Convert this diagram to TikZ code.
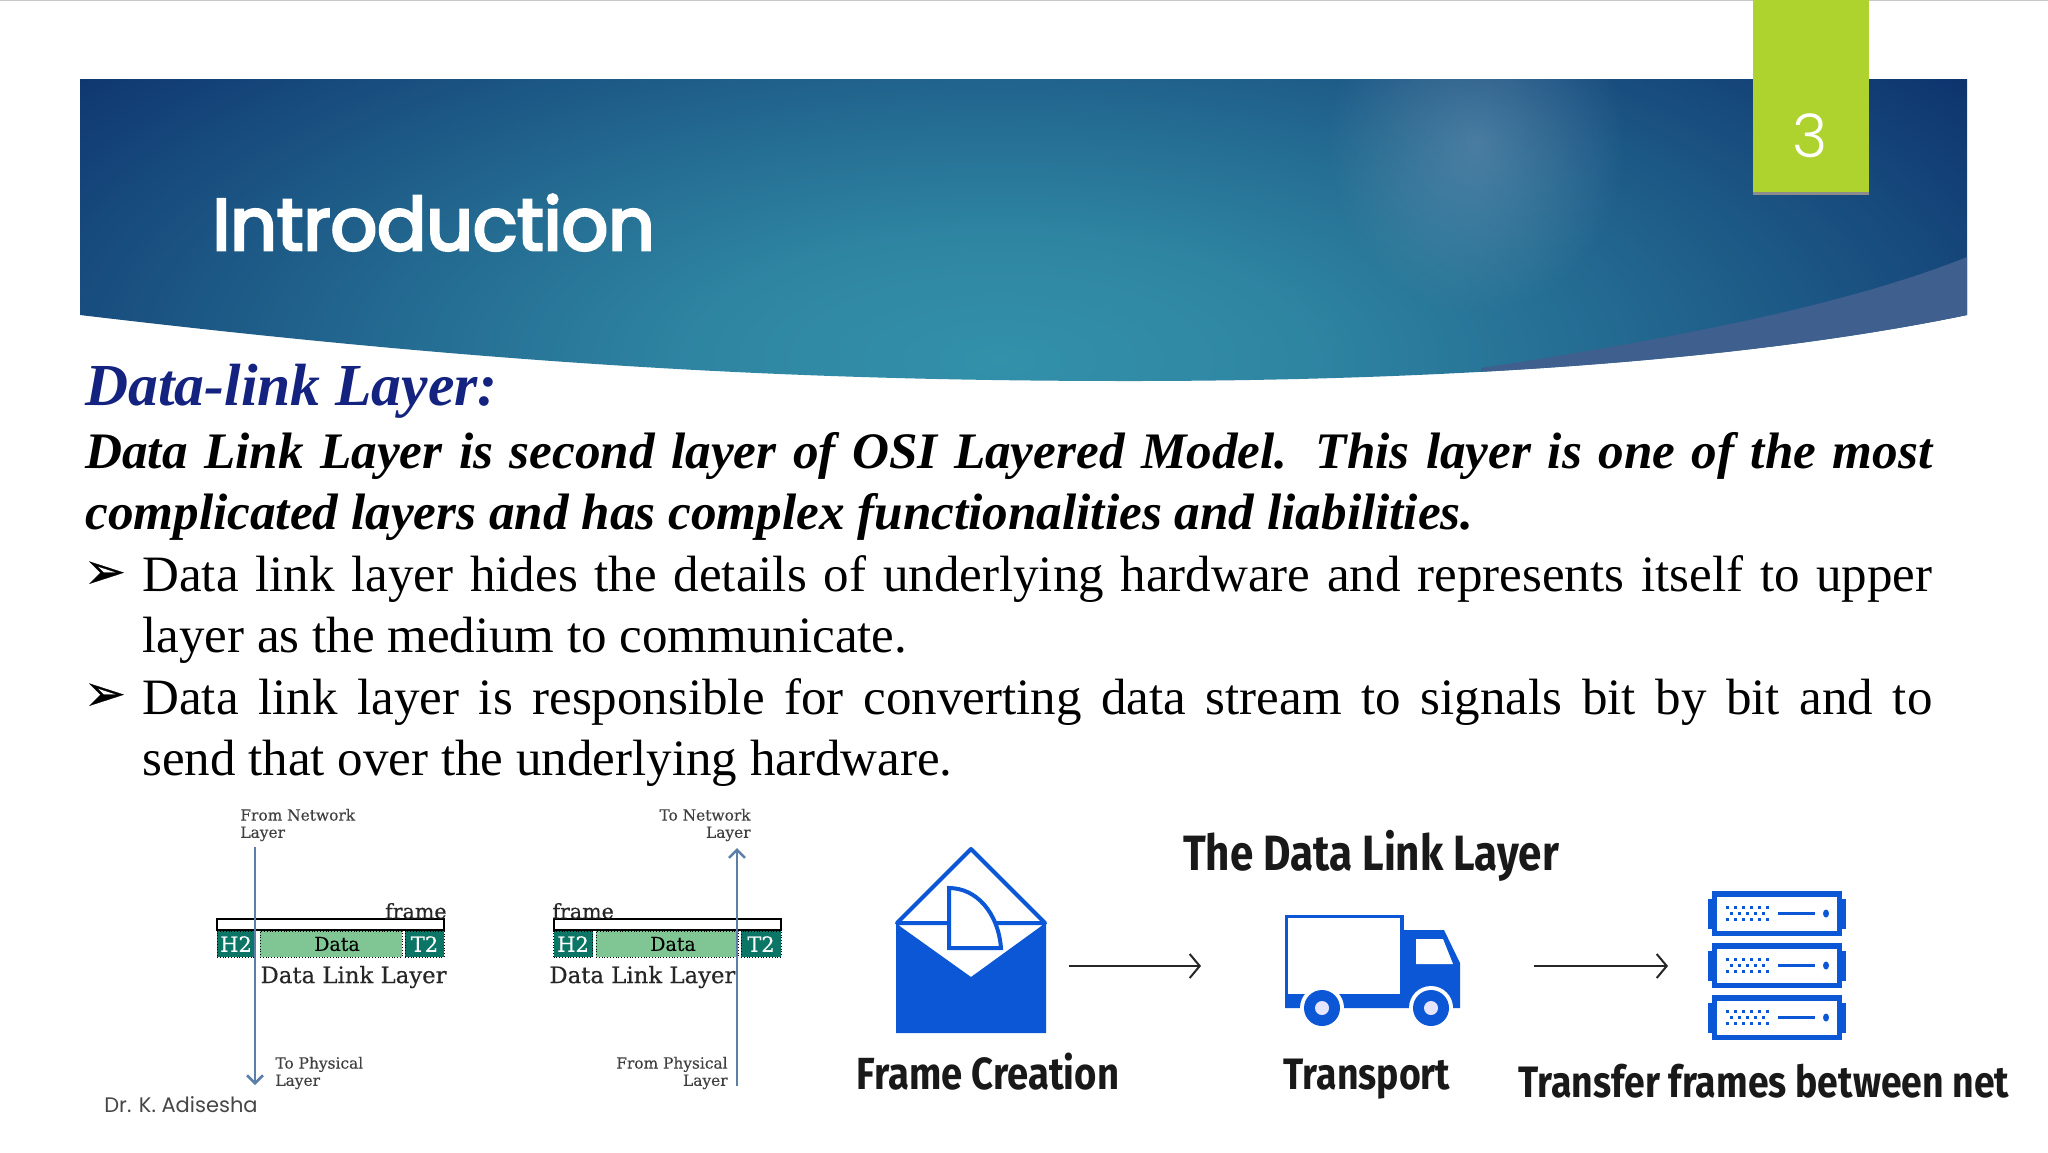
\documentclass[tikz,border=0pt]{standalone}
\usepackage{fontspec}
\setmainfont{Liberation Serif}
\newfontfamily\titlefont[FakeBold=4]{Poppins}
\newfontfamily\pagefont[UprightFont=* Light]{Poppins}
\newfontfamily\creditfont{Poppins}
\newfontfamily\slabfont[FakeBold=0.3]{DejaVu Serif}
\newfontfamily\capfont[FakeStretch=0.85]{Fira Sans}
\newfontfamily\bulletfont[FakeBold=0.6]{DejaVu Sans}
\usetikzlibrary{arrows.meta, fadings}
\hyphenpenalty=10000
\definecolor{navy}{HTML}{0A2A68}
\definecolor{teal1}{HTML}{3391AA}
\definecolor{lime}{HTML}{AED32E}
\definecolor{swoosh}{HTML}{3F608F}
\definecolor{iconblue}{HTML}{0B57D5}
\definecolor{headblue}{HTML}{14237F}
\definecolor{darkgreen}{HTML}{0B7566}
\definecolor{lightgreen}{HTML}{7FC694}
\definecolor{flowblue}{HTML}{5B7FA8}
\pgfdeclareradialshading{bannershade}{\pgfpoint{0bp}{0bp}}{
  color(0bp)=(teal1); color(7bp)=(teal1!88!navy); color(14bp)=(teal1!62!navy);
  color(21bp)=(teal1!34!navy); color(29bp)=(navy); color(50bp)=(navy)}
\tikzfading[name=softglow, inner color=transparent!72, outer color=transparent!100]
\tikzstyle{heading} = [anchor=base west, inner sep=0pt, text=headblue, font=\fontsize{29.8}{32}\selectfont\bfseries\itshape]
\tikzstyle{lead} = [anchor=north west, inner sep=0pt, text width=923.5pt, align=justify, font=\fontsize{25.6}{30.7}\selectfont\bfseries\itshape]
\tikzstyle{body} = [anchor=north west, inner sep=0pt, text width=895pt, align=justify, font=\fontsize{25.5}{30.7}\selectfont]
\tikzstyle{tick} = [inner sep=0pt, font=\bulletfont\fontsize{25}{25}\selectfont]
\tikzstyle{small} = [inner sep=0pt, align=left, text=black!75, font=\slabfont\fontsize{7.7}{8.6}\selectfont]
\tikzstyle{smallr} = [small, align=right]
\tikzstyle{frametag} = [inner sep=0pt, text=black!85, font=\slabfont\fontsize{10.3}{11}\selectfont]
\tikzstyle{layertag} = [inner sep=0pt, text=black!85, font=\slabfont\fontsize{11.4}{12}\selectfont]
\tikzstyle{headbox} = [rectangle, draw=black, densely dotted, fill=darkgreen, text=white, inner sep=0pt, minimum height=13pt, font=\slabfont\fontsize{10.5}{11}\selectfont]
\tikzstyle{databox} = [rectangle, draw=black, densely dotted, fill=lightgreen, text=black, inner sep=0pt, minimum height=13pt, font=\slabfont\fontsize{9.5}{10}\selectfont]
\tikzstyle{framebar} = [rectangle, draw=black, line width=0.7pt, inner sep=0pt, minimum height=5.5pt]
\tikzstyle{flow} = [line width=1.25pt, draw=flowblue, ->, >={Straight Barb[length=4pt,width=8pt]}]
\tikzstyle{arrow} = [line width=1pt, draw=black!85, ->, >={Straight Barb[length=5pt,width=12pt]}]
\tikzstyle{caption} = [inner sep=0pt, text=black!90, font=\capfont\bfseries\fontsize{22}{24}\selectfont]
\tikzset{
  pics/serverrack/.style={code={
    \fill[iconblue] (-69,-15) rectangle (69,15);
    \fill[iconblue] (-65,-22.5) rectangle (65,22.5);
    \fill[white] (-60,-17) rectangle (60,17);
    \draw[iconblue, line width=1.3pt, dash pattern=on 1.3pt off 2.7pt] (-51,-6) -- (-8,-6);
    \draw[iconblue, line width=1.3pt, dash pattern=on 1.3pt off 2.7pt, dash phase=2pt] (-51,0) -- (-8,0);
    \draw[iconblue, line width=1.3pt, dash pattern=on 1.3pt off 2.7pt] (-51,6) -- (-8,6);
    \draw[iconblue, line width=1.3pt] (1,0) -- (38,0);
    \fill[iconblue] (49,0) ellipse (3 and 4);
  }}
}
\def\bannerpath{(80,79) -- (1967,79) -- (1967,315) .. controls (1750,360) and (1450,381) .. (1130,381) .. controls (800,381) and (500,365) .. (80,315) -- cycle}

\begin{document}
\begin{tikzpicture}[x=0.5pt, y=-0.5pt]
	\useasboundingbox (0,0) rectangle (2048,1152);
	\fill[white] (0,0) rectangle (2048,1152);
	\draw[black!22, line width=0.5pt] (0,0.5) -- (2048,0.5);

	% banner
	\begin{scope}
		\clip \bannerpath;
		\shade[shading=bannershade] (-100,-90) rectangle (2100,810);
		\fill[white!55!flowblue, path fading=softglow] (1476,144) ellipse (150 and 170);
		\fill[swoosh] (1967,257) .. controls (1860,300) and (1700,335) .. (1481,368) -- (1481,400) -- (1967,400) -- cycle;
	\end{scope}
	\fill[black!45] (1753,192) rectangle (1869,194.5);
	\fill[lime] (1753,0) rectangle (1869,192);

	\node (pagenum) at (1810,136) [inner sep=0pt, text=white, font=\pagefont\fontsize{30}{32}\selectfont] {3};
	\node (title) at (212,250) [anchor=base west, inner sep=0pt, text=white, font=\titlefont\fontsize{36.4}{38}\selectfont] {Introduction};

	% text block
	\node (topic) at (85,405) [heading] {Data-link Layer:};
	\node (intro) at (85,425) [lead] {\strut Data Link Layer is second layer of OSI Layered Model. This layer is one of the most complicated layers and has complex functionalities and liabilities.};
	\node (markone) at (105,575) [tick] {➢};
	\node (pointone) at (142,548) [body] {\strut Data link layer hides the details of underlying hardware and represents itself to upper layer as the medium to communicate.};
	\node (marktwo) at (105,697) [tick] {➢};
	\node (pointtwo) at (142,671) [body] {\strut Data link layer is responsible for converting data stream to signals bit by bit and to\linebreak send that over the underlying hardware.};

	% sender side
	\node (sendbar) at (330.5,924.5) [framebar, minimum width=113.5pt] {};
	\node (sendh) at (236,944) [headbox, minimum width=19pt] {H2};
	\node (senddata) at (331,944) [databox, minimum width=71pt] {\hspace*{6pt}Data};
	\node (sendt) at (424.5,944) [headbox, minimum width=19.5pt] {T2};
	\node (sendtag) at (447,911) [frametag, anchor=east] {frame};
	\node (sendlayer) at (447,977) [layertag, anchor=east] {Data Link Layer};
	\node (fromnet) at (240,825) [small, anchor=west] {From Network\\Layer};
	\node (tophys) at (275,1073) [small, anchor=west] {To Physical\\Layer};
	\coordinate (sendin) at (255,847);
	\coordinate (sendout) at (255,1085);
	\draw [flow] (sendin) -- (sendout);

	% receiver side
	\node (recvbar) at (667.5,924.5) [framebar, minimum width=113.5pt] {};
	\node (recvh) at (573,944) [headbox, minimum width=19.5pt] {H2};
	\node (recvdata) at (667,944) [databox, minimum width=71pt] {\hspace*{6pt}Data};
	\node (recvt) at (761,944) [headbox, minimum width=20pt] {T2};
	\node (recvtag) at (552,911) [frametag, anchor=west] {frame};
	\node (recvlayer) at (549,977) [layertag, anchor=west] {Data Link Layer};
	\node (tonet) at (751,825) [smallr, anchor=east] {To Network\\Layer};
	\node (fromphys) at (728,1073) [smallr, anchor=east] {From Physical\\Layer};
	\coordinate (recvin) at (737,1086);
	\coordinate (recvout) at (737,848);
	\draw [flow] (recvin) -- (recvout);

	% envelope
	\fill[iconblue] (896,922) -- (901,927) -- (971,977) -- (1040,927) -- (1046,922) -- (1046,1033) -- (896,1033) -- cycle;
	\draw[iconblue, line width=2pt, line join=round] (897,923) -- (971,849) -- (1045,923) -- cycle;
	\draw[iconblue, line width=2pt, fill=white] (949,948) -- (949,888) .. controls (976,888) and (998,912) .. (1001,948) -- cycle;

	% truck
	\fill[iconblue] (1285,985) -- (1400,985) -- (1400,930) -- (1444,930) -- (1460,963) -- (1460,1008) -- (1285,1008) -- cycle;
	\draw[iconblue, line width=1.7pt, fill=white] (1286.5,916.5) rectangle (1402,996);
	\fill[white] (1416,939) -- (1443,939) -- (1453,964) -- (1416,964) -- cycle;
	\fill[white] (1322,1008) circle (22);
	\fill[white] (1431,1008) circle (22);
	\fill[iconblue] (1322,1008) circle (18);
	\fill[iconblue] (1431,1008) circle (18);
	\fill[blue!10!white] (1322,1008) circle (7);
	\fill[blue!10!white] (1431,1008) circle (7);

	% servers
	\pic at (1777,913.5) {serverrack};
	\pic at (1777,965.5) {serverrack};
	\pic at (1777,1017.5) {serverrack};

	% captions
	\node (heading) at (1371,856) [caption, font=\capfont\bfseries\fontsize{24.8}{26}\selectfont] {The Data Link Layer};
	\node (create) at (988,1072) [caption, font=\capfont\bfseries\fontsize{22.5}{24}\selectfont] {Frame Creation};
	\node (carry) at (1367,1079) [caption] {Transport};
	\node (transfer) at (1764,1081) [caption] {Transfer frames between net};
	\node (credit) at (104,1105) [anchor=west, inner sep=0pt, text=black!72, font=\creditfont\fontsize{10.5}{12}\selectfont] {Dr. K. Adisesha};

	\coordinate (envout) at (1069,966);
	\coordinate (truckin) at (1201,966);
	\coordinate (truckout) at (1534,966);
	\coordinate (rackin) at (1668,966);
	\draw [arrow] (envout) -- (truckin);
	\draw [arrow] (truckout) -- (rackin);

\end{tikzpicture}
\end{document}
